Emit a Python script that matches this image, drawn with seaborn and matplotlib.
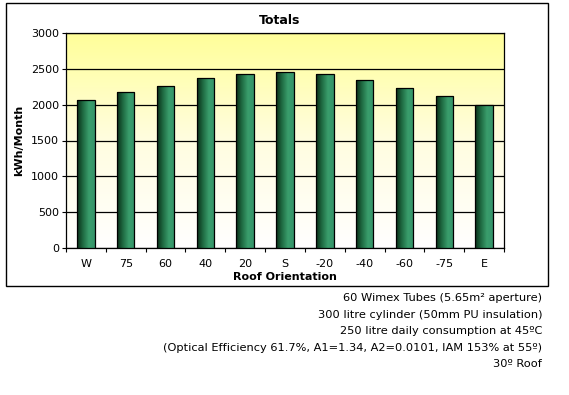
import matplotlib
matplotlib.use("Agg")
import matplotlib.pyplot as plt
import seaborn as sns
import pandas as pd
import numpy as np
from matplotlib.colors import LinearSegmentedColormap
from matplotlib.patches import Rectangle

orientations = ["W", "75", "60", "40", "20", "S", "-20", "-40", "-60", "-75", "E"]
totals = [2060, 2170, 2265, 2368, 2424, 2452, 2424, 2340, 2228, 2117, 1995]

notes = [
    "60 Wimex Tubes (5.65m² aperture)",
    "300 litre cylinder (50mm PU insulation)",
    "250 litre daily consumption at 45ºC",
    "(Optical Efficiency 61.7%, A1=1.34, A2=0.0101, IAM 153% at 55º)",
    "30º Roof",
]

data = pd.DataFrame({"Orientation": orientations, "Total": totals})

sns.set_style("white")
plt.rcParams["font.family"] = ["DejaVu Sans"]
plt.rcParams["text.color"] = "black"
plt.rcParams["axes.labelcolor"] = "black"
plt.rcParams["xtick.color"] = "black"
plt.rcParams["ytick.color"] = "black"

fig = plt.figure(figsize=(5.69, 3.95), dpi=100)
W, H = 569, 395

# outer chart frame
fig.patches.append(Rectangle((6 / W, 1 - 286 / H), 542 / W, 283 / H,
                             transform=fig.transFigure, fill=False,
                             edgecolor="black", linewidth=1))

ax = fig.add_axes([66 / W, 1 - 248 / H, 438 / W, 215 / H])

# yellow-to-white background gradient
bg = LinearSegmentedColormap.from_list("bg", ["#ffffff", "#fffde0", "#ffff99"])
grad = np.linspace(0, 1, 256).reshape(-1, 1)
ax.imshow(grad, cmap=bg, aspect="auto", origin="lower",
          extent=[0, 1, 0, 1], transform=ax.transAxes, zorder=0)

sns.barplot(data=data, x="Orientation", y="Total", color="#339966",
            width=0.44, edgecolor="black", linewidth=0.9, ax=ax, zorder=3)

# green shading on the bars
barmap = LinearSegmentedColormap.from_list(
    "bar", ["#0a2e18", "#1f6b42", "#3a9d6c", "#35946a"])
hgrad = np.linspace(0, 1, 64).reshape(1, -1)
for p in ax.patches:
    x, w, h = p.get_x(), p.get_width(), p.get_height()
    im = ax.imshow(hgrad, cmap=barmap, aspect="auto",
                   extent=[x, x + w, 0, h], zorder=3.5)
    im.set_clip_path(p)
    p.set_facecolor("none")
    p.set_zorder(4)

ax.set_xlim(-0.5, len(orientations) - 0.5)
ax.set_ylim(0, 3000)
ax.set_yticks(range(0, 3001, 500))
ax.yaxis.grid(True, color="black", linewidth=0.9)
ax.set_axisbelow(False)
for l in ax.get_ygridlines():
    l.set_zorder(2)

ax.set_xticks(range(len(orientations)))
ax.set_xticklabels(orientations)
ax.set_xticks(np.arange(-0.5, len(orientations)), minor=True)
ax.tick_params(axis="x", which="major", length=0, labelsize=8, pad=8)
ax.tick_params(axis="x", which="minor", length=3, width=0.8, direction="out",
               bottom=True)
ax.tick_params(axis="y", length=3, width=0.8, direction="out", left=True,
               labelsize=8, pad=2)

for s in ax.spines.values():
    s.set_color("black")
    s.set_linewidth(0.9)

ax.set_xlabel("Roof Orientation", fontsize=8, fontweight="bold", labelpad=2)
ax.set_ylabel("kWh/Month", fontsize=8, fontweight="bold", labelpad=5)
fig.text(280 / W, 1 - 20 / H, "Totals", ha="center", va="center",
         fontsize=9, fontweight="bold")

for i, t in enumerate(notes):
    fig.text(542 / W, 1 - (298 + i * 16.6) / H, t, ha="right", va="center",
             fontsize=8.2)

fig.savefig("out.png", dpi=100, facecolor="white")
